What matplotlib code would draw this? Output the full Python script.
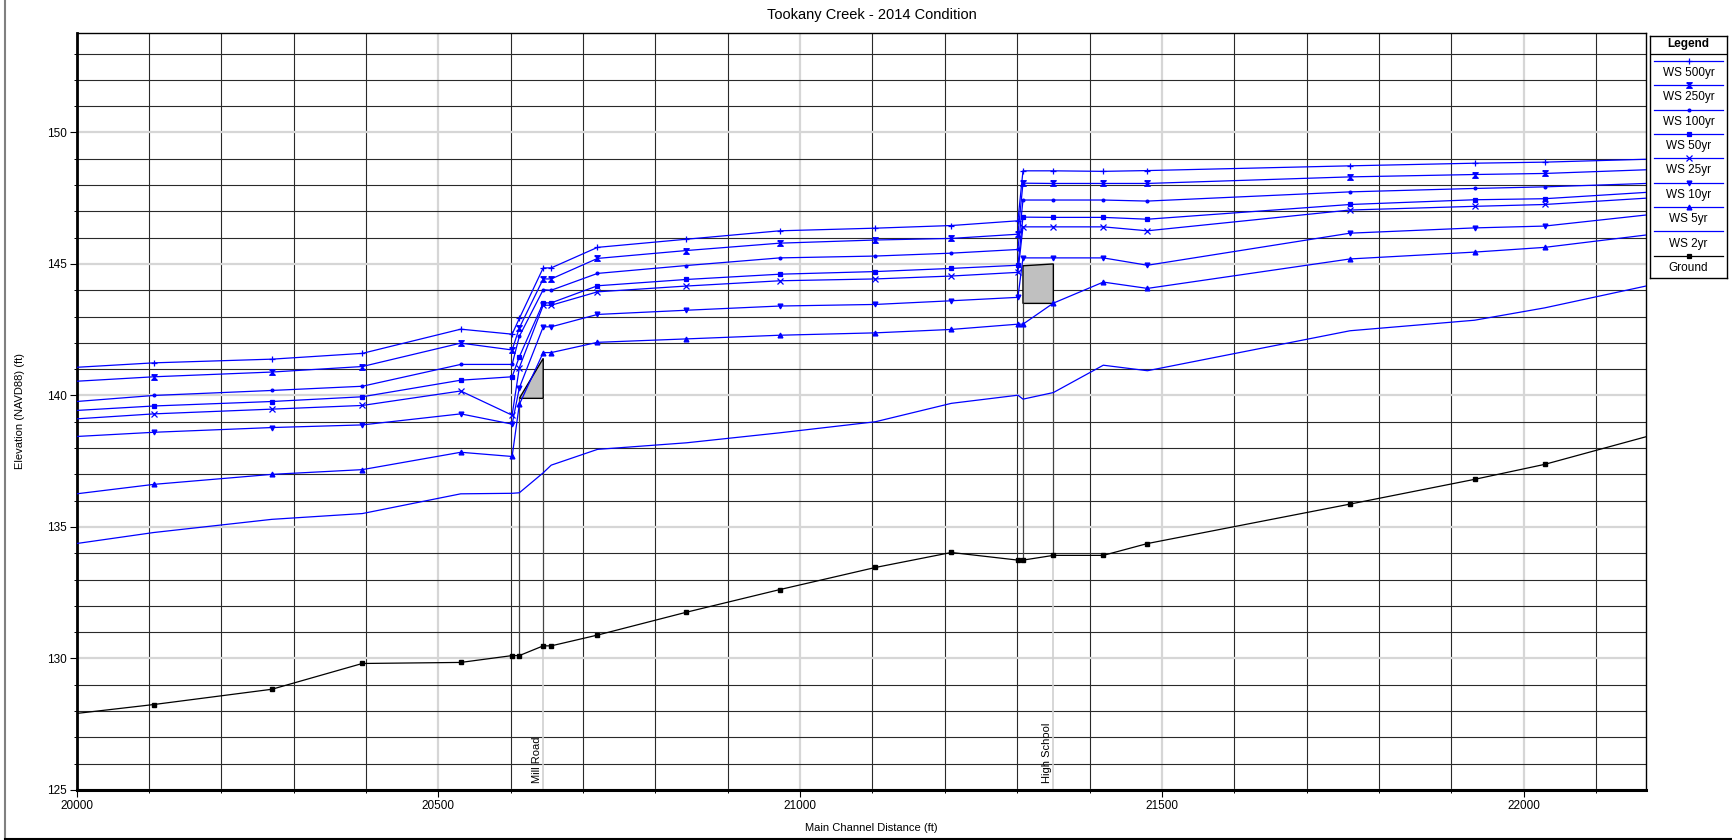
import numpy as np
import matplotlib
matplotlib.use('Agg')
import matplotlib.pyplot as plt
from matplotlib.path import Path
from matplotlib.lines import Line2D
from matplotlib.ticker import MultipleLocator, FormatStrFormatter

plt.rcParams['font.family'] = ['Liberation Sans', 'DejaVu Sans']

# main channel distance of the cross sections (ft), first/last = plot edges
stations = [20000, 20107, 20270, 20395, 20531, 20602, 20612, 20645, 20656, 20720,
            20843, 20972, 21104, 21209, 21301, 21308, 21350, 21419, 21480, 21760,
            21932, 22029, 22169]

ground = [127.91, 128.25, 128.83, 129.81, 129.85, 130.11, 130.11, 130.48, 130.48, 130.89,
          131.76, 132.62, 133.46, 134.03, 133.74, 133.74, 133.92, 133.92, 134.37, 135.87,
          136.81, 137.38, 138.43]

ws_500 = [141.07, 141.24, 141.38, 141.60, 142.52, 142.33, 142.93, 144.85, 144.85, 145.63,
          145.94, 146.26, 146.36, 146.46, 146.64, 148.54, 148.54, 148.52, 148.55, 148.73,
          148.83, 148.87, 148.98]
ws_250 = [140.54, 140.71, 140.89, 141.10, 141.99, 141.73, 142.57, 144.43, 144.43, 145.21,
          145.51, 145.79, 145.91, 145.97, 146.13, 148.07, 148.06, 148.06, 148.06, 148.31,
          148.40, 148.44, 148.58]
ws_100 = [139.77, 140.00, 140.19, 140.35, 141.18, 141.18, 142.25, 144.02, 144.00, 144.64,
          144.94, 145.23, 145.30, 145.41, 145.55, 147.43, 147.43, 147.43, 147.39, 147.74,
          147.87, 147.93, 148.06]
ws_50 = [139.43, 139.60, 139.77, 139.95, 140.58, 140.71, 141.47, 143.52, 143.52, 144.17,
         144.41, 144.61, 144.71, 144.83, 144.95, 146.78, 146.77, 146.77, 146.70, 147.26,
         147.44, 147.48, 147.72]
ws_25 = [139.11, 139.30, 139.48, 139.62, 140.17, 139.25, 141.06, 143.43, 143.43, 143.94,
         144.16, 144.36, 144.43, 144.54, 144.68, 146.41, 146.41, 146.41, 146.26, 147.05,
         147.19, 147.26, 147.50]
ws_10 = [138.44, 138.60, 138.78, 138.88, 139.30, 138.91, 140.29, 142.61, 142.61, 143.08,
         143.24, 143.40, 143.46, 143.60, 143.73, 145.23, 145.23, 145.23, 144.95, 146.17,
         146.37, 146.44, 146.86]
ws_5 = [136.26, 136.62, 137.00, 137.18, 137.84, 137.68, 139.66, 141.63, 141.63, 142.02,
        142.15, 142.29, 142.38, 142.51, 142.71, 142.71, 143.51, 144.31, 144.07, 145.19,
        145.45, 145.63, 146.10]
ws_2 = [134.37, 134.79, 135.29, 135.51, 136.26, 136.28, 136.30, 137.06, 137.35, 137.95,
        138.20, 138.58, 139.00, 139.70, 140.01, 139.86, 140.11, 141.15, 140.94, 142.46,
        142.86, 143.33, 144.16]

profile_names = ['WS 500yr', 'WS 250yr', 'WS 100yr', 'WS 50yr', 'WS 25yr', 'WS 10yr', 'WS 5yr', 'WS 2yr']
profiles = [ws_500, ws_250, ws_100, ws_50, ws_25, ws_10, ws_5, ws_2]

# bridges
bridge_names = ['Mill Road', 'High School']
bridge_left = [20612, 21308]
bridge_right = [20645, 21350]
low_chord = [139.89, 143.50]
high_chord_left = [139.89, 144.93]
high_chord_right = [141.41, 145.00]

# marker styles (250yr marker is an hourglass shape)
hourglass = Path([(-1, 1), (1, 1), (-1, -1), (1, -1), (-1, 1)])
markers = ['+', hourglass, 'o', 's', 'x', 'v', '^', None]
msizes = [5, 4, 2, 3.5, 4, 3.5, 3.5, 0]
blue = '#0000ff'

fig = plt.figure(figsize=(17.32, 8.4), dpi=100)
ax = fig.add_axes([76.5 / 1732, 50 / 840, 1569.5 / 1732, 757 / 840])

for name, ys, m, ms in zip(profile_names, profiles, markers, msizes):
    ax.plot(stations, ys, color=blue, lw=0.9, marker=m, ms=ms, mew=0.9,
            markevery=slice(1, -1), zorder=4, label=name)
ax.plot(stations, ground, color='black', lw=0.9, marker='s', ms=3,
        markevery=slice(1, -1), zorder=4, label='Ground')

# bridge decks and faces
for i in range(len(bridge_names)):
    xs = [bridge_left[i], bridge_right[i], bridge_right[i], bridge_left[i]]
    ys = [high_chord_left[i], high_chord_right[i], low_chord[i], low_chord[i]]
    ax.fill(xs, ys, facecolor='#c0c0c0', edgecolor='black', lw=1, zorder=3)
    for bx in (bridge_left[i], bridge_right[i]):
        g = np.interp(bx, stations, ground)
        ax.vlines(bx, g, low_chord[i], color='#444444', lw=0.9, zorder=3)
    g_r = np.interp(bridge_right[i], stations, ground)
    ax.vlines(bridge_right[i], 125, g_r, color='#cfcfcf', lw=1.2, zorder=2)
    ax.text(bridge_right[i] - 2, 125.25, bridge_names[i], rotation=90,
            ha='right', va='bottom', fontsize=8, zorder=5)

ax.set_xlim(20000, 22169)
ax.set_ylim(125, 153.78)
ax.xaxis.set_major_locator(MultipleLocator(500))
ax.xaxis.set_minor_locator(MultipleLocator(100))
ax.yaxis.set_major_locator(MultipleLocator(5))
ax.yaxis.set_minor_locator(MultipleLocator(1))
ax.xaxis.set_major_formatter(FormatStrFormatter('%d'))
ax.yaxis.set_major_formatter(FormatStrFormatter('%d'))
ax.grid(which='major', color='#d6d6d6', lw=1.6)
ax.grid(which='minor', color='#2a2a2a', lw=0.8)
ax.set_axisbelow(True)
ax.tick_params(which='major', direction='out', length=5, width=0.8, labelsize=8.5, pad=2)
ax.tick_params(which='minor', direction='out', length=2.5, width=0.7)
for side in ['top', 'right']:
    ax.spines[side].set_linewidth(1.0)
ax.spines['left'].set_linewidth(2.0)
ax.spines['bottom'].set_linewidth(2.2)

fig.text(872 / 1732, 1 - 15 / 840, 'Tookany Creek - 2014 Condition', ha='center', va='center', fontsize=10.5)
fig.text(871 / 1732, 1 - 828 / 840, 'Main Channel Distance (ft)', ha='center', va='center', fontsize=8)
fig.text(20 / 1732, 1 - 411 / 840, 'Elevation (NAVD88) (ft)', ha='center', va='center',
         rotation=90, fontsize=8)

# legend box in the HEC-RAS style (line above the label)
lax = fig.add_axes([1650 / 1732, 1 - 278 / 840, 77 / 1732, 242 / 840])
lax.set_xlim(0, 77)
lax.set_ylim(242, 0)
lax.set_xticks([])
lax.set_yticks([])
for s in lax.spines.values():
    s.set_linewidth(1.0)
lax.text(38.5, 8.5, 'Legend', ha='center', va='center', fontsize=8.5, fontweight='bold')
lax.axhline(18.3, color='black', lw=0.9)
leg_names = profile_names + ['Ground']
leg_colors = [blue] * len(profile_names) + ['black']
leg_markers = markers + ['s']
leg_sizes = msizes + [3]
for i, name in enumerate(leg_names):
    ly = 24.7 + i * 24.4
    lax.plot([4, 73], [ly, ly], color=leg_colors[i], lw=0.9)
    if leg_markers[i] is not None:
        lax.plot([38.5], [ly], color=leg_colors[i], marker=leg_markers[i], ms=leg_sizes[i], mew=0.9)
    lax.text(38.5, ly + 12, name, ha='center', va='center', fontsize=8.5)

# outer frame of the plot window
fig.add_artist(Line2D([5 / 1732, 5 / 1732], [1 / 840, 1], transform=fig.transFigure, color='#808080', lw=1.5))
fig.add_artist(Line2D([5 / 1732, 1], [1 / 840, 1 / 840], transform=fig.transFigure, color='black', lw=1.5))

fig.savefig('out.png', dpi=100)
